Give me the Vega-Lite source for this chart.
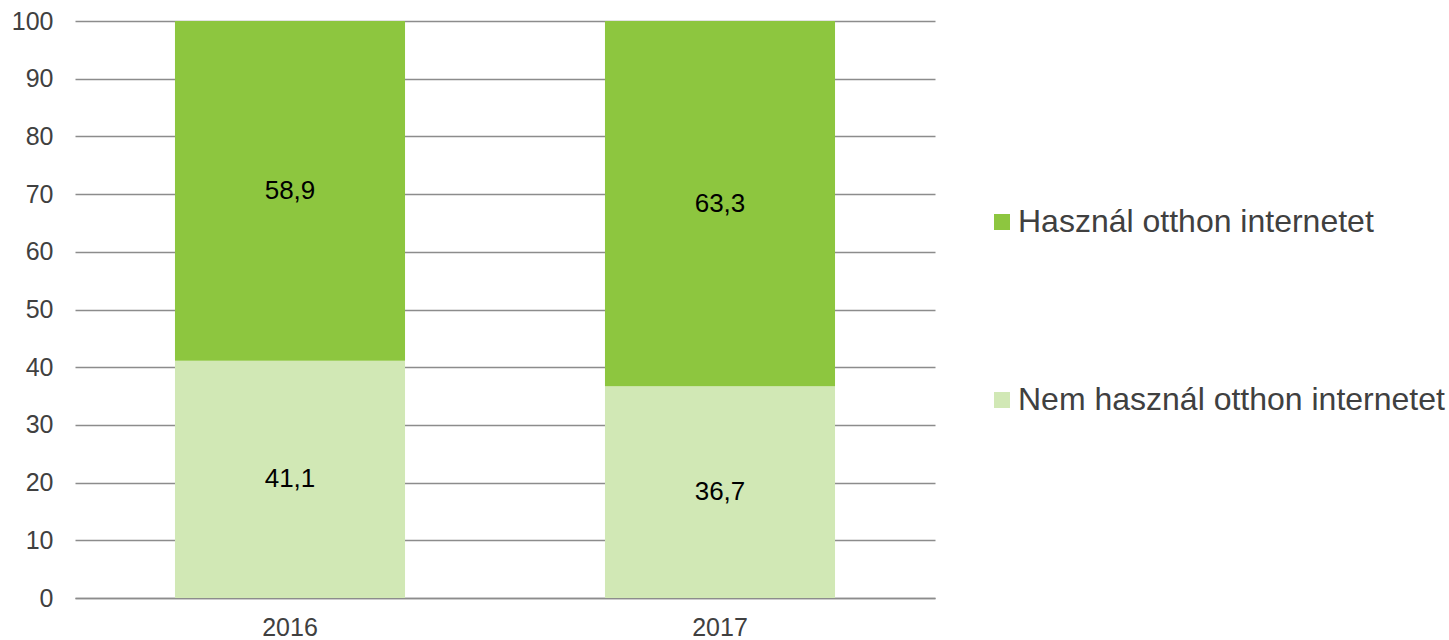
{
  "$schema": "https://vega.github.io/schema/vega-lite/v6.json",
  "width": 860,
  "height": 577,
  "autosize": {"type": "none"},
  "padding": {"left": 75, "top": 21, "right": 514, "bottom": 42},
  "background": "white",
  "config": {
    "font": "Liberation Sans",
    "view": {"stroke": null},
    "locale": {"number": {"decimal": ",", "thousands": " ", "grouping": [3], "currency": ["", " Ft"]}}
  },
  "data": {
    "values": [
      {"year": "2016", "category": "Nem használ otthon internetet", "rank": 1, "value": 41.1},
      {"year": "2016", "category": "Használ otthon internetet", "rank": 2, "value": 58.9},
      {"year": "2017", "category": "Nem használ otthon internetet", "rank": 1, "value": 36.7},
      {"year": "2017", "category": "Használ otthon internetet", "rank": 2, "value": 63.3}
    ]
  },
  "transform": [
    {"stack": "value", "groupby": ["year"], "sort": [{"field": "rank", "order": "ascending"}], "as": ["y0", "y1"]},
    {"calculate": "(datum.y0 + datum.y1) / 2", "as": "ymid"}
  ],
  "encoding": {
    "x": {
      "field": "year",
      "type": "nominal",
      "title": null,
      "scale": {"paddingInner": 0.465, "paddingOuter": 0.2325},
      "axis": {
        "labelAngle": 0,
        "labelFontSize": 25,
        "labelColor": "#404040",
        "labelPadding": 17,
        "ticks": false,
        "domainColor": "#8c8c8c",
        "domainWidth": 1.5,
        "grid": false
      }
    }
  },
  "layer": [
    {
      "mark": {"type": "bar"},
      "encoding": {
        "y": {
          "field": "y0",
          "type": "quantitative",
          "title": null,
          "scale": {"domain": [0, 100], "nice": false},
          "axis": {
            "values": [0, 10, 20, 30, 40, 50, 60, 70, 80, 90, 100],
            "labelFontSize": 25,
            "labelColor": "#404040",
            "labelPadding": 22,
            "ticks": false,
            "domain": false,
            "grid": true,
            "gridColor": "#8c8c8c",
            "gridWidth": 1.5
          }
        },
        "y2": {"field": "y1"},
        "color": {
          "field": "category",
          "type": "nominal",
          "title": null,
          "scale": {
            "domain": ["Használ otthon internetet", "Nem használ otthon internetet"],
            "range": ["#8dc63f", "#d1e8b5"]
          },
          "legend": {
            "orient": "none",
            "legendX": 911,
            "legendY": 185,
            "padding": 0,
            "symbolType": "square",
            "symbolSize": 256,
            "symbolStrokeWidth": 0,
            "labelFontSize": 32,
            "labelColor": "#404040",
            "labelLimit": 600,
            "labelOffset": 0,
            "rowPadding": 146
          }
        }
      }
    },
    {
      "mark": {"type": "text", "fontSize": 26, "color": "#000000", "baseline": "middle"},
      "encoding": {
        "y": {"field": "ymid", "type": "quantitative"},
        "text": {"field": "value", "type": "quantitative", "format": ".1f"}
      }
    }
  ]
}
